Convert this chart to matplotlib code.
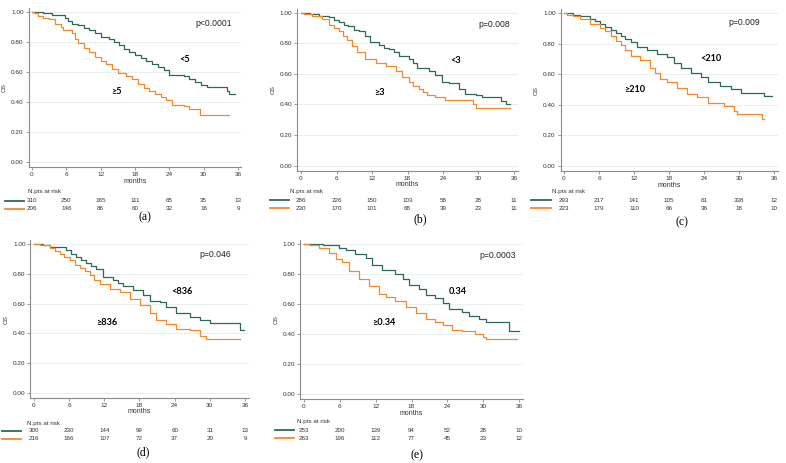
import matplotlib
matplotlib.use('Agg')
import matplotlib.pyplot as plt
from matplotlib.lines import Line2D
from matplotlib.transforms import blended_transform_factory

plt.rcParams['font.family'] = ['Liberation Sans', 'DejaVu Sans']

GREEN = '#2b6a57'
ORANGE = '#f4892c'
GRID = '#e4edf1'
SPINE = '#8a8a8a'

W, H = 786, 463

# ---- data ----
months = [0, 6, 12, 18, 24, 30, 36]

a_green_t = [2.0, 3.5, 5.8, 6.3, 7.0, 8.0, 9.0, 10.0, 11.0, 12.0, 13.5, 14.3, 15.2, 16.0, 17.0, 18.0, 19.0, 20.0, 21.0, 22.0, 23.0, 24.0, 26.5, 27.5, 28.5, 29.5, 30.5, 34.0, 34.5, 35.5]
a_green_s = [0.99, 0.98, 0.96, 0.94, 0.92, 0.91, 0.89, 0.88, 0.86, 0.83, 0.82, 0.80, 0.78, 0.75, 0.73, 0.71, 0.69, 0.67, 0.65, 0.63, 0.61, 0.58, 0.57, 0.55, 0.53, 0.51, 0.50, 0.47, 0.45, 0.45]
a_orange_t = [0.3, 1.0, 2.0, 3.0, 4.0, 5.0, 5.5, 7.0, 7.5, 8.0, 9.0, 10.0, 11.0, 12.0, 13.0, 14.0, 15.0, 16.5, 17.5, 18.5, 19.5, 20.5, 21.5, 22.5, 23.5, 24.5, 26.5, 27.5, 29.3, 34.5]
a_orange_s = [0.99, 0.97, 0.96, 0.95, 0.92, 0.90, 0.88, 0.86, 0.82, 0.79, 0.76, 0.73, 0.70, 0.67, 0.65, 0.62, 0.59, 0.57, 0.55, 0.52, 0.49, 0.47, 0.45, 0.43, 0.41, 0.38, 0.37, 0.35, 0.31, 0.31]

b_green_t = [1.5, 3.0, 4.7, 5.5, 6.4, 7.2, 8.0, 9.0, 9.8, 10.9, 11.7, 13.1, 14.0, 14.8, 15.7, 16.5, 18.2, 19.0, 19.6, 21.6, 22.7, 23.9, 25.0, 26.7, 27.8, 29.5, 30.6, 33.8, 34.6, 35.4]
b_green_s = [0.99, 0.98, 0.97, 0.95, 0.94, 0.92, 0.91, 0.89, 0.88, 0.85, 0.81, 0.79, 0.77, 0.76, 0.74, 0.72, 0.70, 0.67, 0.64, 0.62, 0.59, 0.55, 0.54, 0.50, 0.47, 0.46, 0.45, 0.42, 0.40, 0.40]
b_orange_t = [0.5, 1.9, 3.6, 4.7, 5.5, 6.4, 7.1, 7.8, 8.6, 9.5, 10.9, 12.6, 14.3, 16.0, 17.1, 18.2, 19.0, 19.9, 20.6, 21.3, 22.7, 24.4, 27.3, 29.0, 29.5, 35.4]
b_orange_s = [0.99, 0.98, 0.96, 0.92, 0.90, 0.88, 0.85, 0.82, 0.78, 0.74, 0.70, 0.67, 0.65, 0.62, 0.58, 0.55, 0.52, 0.50, 0.48, 0.46, 0.45, 0.43, 0.43, 0.40, 0.38, 0.38]

c_green_t = [1.5, 2.8, 4.5, 5.3, 6.2, 7.1, 8.0, 8.9, 9.7, 10.5, 11.4, 12.5, 14.3, 16.0, 17.7, 18.8, 20.0, 21.7, 23.4, 24.6, 26.8, 28.6, 30.3, 34.3, 35.7]
c_green_s = [0.99, 0.98, 0.96, 0.95, 0.93, 0.91, 0.89, 0.87, 0.85, 0.83, 0.81, 0.78, 0.76, 0.73, 0.71, 0.67, 0.64, 0.61, 0.58, 0.55, 0.52, 0.50, 0.48, 0.46, 0.46]
c_orange_t = [0.5, 1.5, 2.8, 4.5, 6.2, 7.1, 8.0, 8.9, 9.7, 10.5, 11.4, 13.1, 14.8, 15.6, 16.5, 17.7, 19.4, 21.1, 22.8, 24.6, 27.4, 29.1, 29.7, 34.0, 34.2]
c_orange_s = [0.99, 0.98, 0.96, 0.93, 0.90, 0.88, 0.85, 0.82, 0.79, 0.76, 0.72, 0.69, 0.64, 0.61, 0.57, 0.55, 0.51, 0.47, 0.45, 0.41, 0.39, 0.36, 0.34, 0.31, 0.31]

d_green_t = [1.5, 2.7, 5.5, 6.3, 7.2, 8.0, 8.9, 9.7, 10.6, 11.8, 13.5, 14.3, 15.2, 16.9, 18.6, 19.8, 21.5, 22.6, 24.3, 26.6, 28.3, 30.0, 35.1, 35.8]
d_green_s = [0.99, 0.98, 0.96, 0.93, 0.91, 0.89, 0.87, 0.85, 0.83, 0.78, 0.76, 0.74, 0.72, 0.69, 0.66, 0.62, 0.61, 0.58, 0.54, 0.51, 0.49, 0.47, 0.42, 0.42]
d_orange_t = [1.0, 2.7, 3.5, 4.4, 5.2, 6.1, 7.0, 7.8, 8.7, 9.5, 10.3, 11.2, 12.9, 14.6, 16.3, 18.1, 19.8, 20.9, 22.6, 24.3, 26.6, 28.3, 29.4, 35.1]
d_orange_s = [0.99, 0.97, 0.95, 0.93, 0.91, 0.89, 0.86, 0.84, 0.82, 0.79, 0.76, 0.73, 0.70, 0.68, 0.63, 0.59, 0.54, 0.49, 0.46, 0.43, 0.42, 0.38, 0.36, 0.36]

e_green_t = [3.1, 4.2, 5.9, 7.0, 8.6, 10.3, 11.4, 13.1, 15.3, 16.5, 17.6, 19.3, 20.4, 22.0, 23.2, 24.3, 26.5, 27.6, 29.3, 30.4, 34.3, 36.0]
e_green_s = [0.995, 0.99, 0.97, 0.96, 0.93, 0.91, 0.86, 0.83, 0.80, 0.77, 0.73, 0.70, 0.66, 0.64, 0.61, 0.57, 0.55, 0.52, 0.50, 0.48, 0.42, 0.42]
e_orange_t = [0.8, 2.5, 4.2, 5.3, 6.4, 7.5, 9.2, 10.9, 12.6, 13.7, 15.3, 17.0, 18.7, 20.4, 22.0, 23.2, 24.8, 26.5, 28.7, 29.9, 30.5, 35.7]
e_orange_s = [0.99, 0.97, 0.94, 0.90, 0.88, 0.82, 0.77, 0.72, 0.67, 0.65, 0.62, 0.58, 0.54, 0.50, 0.48, 0.46, 0.43, 0.42, 0.40, 0.38, 0.37, 0.37]

a_risk = [[310, 250, 165, 111, 65, 35, 13], [206, 146, 86, 60, 32, 16, 9]]
b_risk = [[286, 226, 150, 103, 58, 28, 11], [230, 170, 101, 68, 39, 23, 11]]
c_risk = [[293, 217, 141, 105, 61, 338, 12], [223, 179, 110, 66, 36, 18, 10]]
d_risk = [[300, 230, 144, 99, 60, 31, 13], [216, 166, 107, 72, 37, 20, 9]]
e_risk = [[253, 200, 139, 94, 52, 28, 10], [263, 196, 112, 77, 45, 23, 12]]

p_values = ['p<0.0001', 'p=0.008', 'p=0.009', 'p=0.046', 'p=0.0003']
low_labels = ['<5', '<3', '<210', '<836', '0.34']
high_labels = ['\u22655', '\u22653', '\u2265210', '\u2265836', '\u22650.34']
panel_tags = ['(a)', '(b)', '(c)', '(d)', '(e)']

# ---- layout (pixels in the 786x463 picture) ----
# x of month 0, x of month 36, y of 1.00, y of 0.00
frames = [(32, 238, 12, 162), (301, 514, 12.7, 165.7), (564, 774, 13, 166),
          (34, 245, 244, 393), (304, 519, 244, 394)]
# p-value pos, low label pos, high label pos (data coords)
text_pos = [((31.8, 0.925), (26.7, 0.68), (14.7, 0.47)),
            ((32.6, 0.92), (26.1, 0.69), (13.3, 0.48)),
            ((30.9, 0.935), (25.1, 0.705), (12.1, 0.50)),
            ((30.9, 0.93), (25.2, 0.68), (12.4, 0.47)),
            ((32.4, 0.92), (25.8, 0.685), (13.4, 0.478))]
# N.pts x, N.pts y, row1 y, row2 y, legend x0, x1, tag x, tag y
table_pos = [(28, 192, 201, 209, 5, 24, 145, 217),
             (290, 192, 200, 208, 270, 289, 420, 219),
             (552, 192, 200, 208, 531, 551, 682, 222),
             (27, 423, 431, 439, 2, 21, 143, 452),
             (297, 422, 430, 438, 275, 294, 417, 455)]

curves = [(a_green_t, a_green_s, a_orange_t, a_orange_s),
          (b_green_t, b_green_s, b_orange_t, b_orange_s),
          (c_green_t, c_green_s, c_orange_t, c_orange_s),
          (d_green_t, d_green_s, d_orange_t, d_orange_s),
          (e_green_t, e_green_s, e_orange_t, e_orange_s)]
risks = [a_risk, b_risk, c_risk, d_risk, e_risk]

fig = plt.figure(figsize=(W / 100, H / 100), dpi=100)

XL, XR = -0.6, 36.6
YB, YT = -0.035, 1.025


def fy(py):
    return 1 - py / H


for i in range(5):
    x0, x36, y1, y0 = frames[i]
    sx = (x36 - x0) / 36
    sy = y0 - y1
    left = x0 + XL * sx
    right = x0 + XR * sx
    top = y0 - YT * sy
    bottom = y0 - YB * sy
    ax = fig.add_axes([left / W, fy(bottom), (right - left) / W, (bottom - top) / H])

    gt, gs, ot, os_ = curves[i]
    ax.step([0] + gt, [1.0] + gs, where='post', color=GREEN, lw=0.9, zorder=3)
    ax.step([0] + ot, [1.0] + os_, where='post', color=ORANGE, lw=0.9, zorder=3)

    ax.set_xlim(XL, XR)
    ax.set_ylim(YB, YT)
    ax.set_xticks(months)
    ax.set_yticks([0, 0.2, 0.4, 0.6, 0.8, 1.0])
    ax.set_yticklabels(['%.2f' % v for v in [0, 0.2, 0.4, 0.6, 0.8, 1.0]])
    ax.grid(axis='y', color=GRID, lw=0.6, zorder=0)
    ax.set_axisbelow(True)
    for s in ['top', 'right']:
        ax.spines[s].set_visible(False)
    for s in ['left', 'bottom']:
        ax.spines[s].set_color(SPINE)
        ax.spines[s].set_linewidth(0.8)
    ax.tick_params(length=2, width=0.6, color=SPINE, labelsize=4.6,
                   labelcolor='#333333', pad=1.5)
    ax.set_xlabel('months', fontsize=5, labelpad=0.3, color='#333333')
    ax.set_ylabel('OS', fontsize=4.5, labelpad=3, color='#333333')

    (px, py), (lx, ly), (hx, hy) = text_pos[i]
    ax.text(px, py, p_values[i], fontsize=6.2, ha='center', va='center', color='#222222')
    ax.text(lx, ly, low_labels[i], fontsize=6.6, fontweight='bold', ha='center',
            va='center', family=['Lato', 'DejaVu Sans'])
    ax.text(hx, hy, high_labels[i], fontsize=6.6, fontweight='bold', ha='center',
            va='center', family=['Lato', 'DejaVu Sans'])

    nx, ny, r1, r2, lx0, lx1, tx, ty = table_pos[i]
    fig.text(nx / W, fy(ny), 'N.pts at risk', fontsize=4.5, va='center', ha='left', color='#333333')
    tr = blended_transform_factory(ax.transData, fig.transFigure)
    for row, ry, col in [(risks[i][0], r1, GREEN), (risks[i][1], r2, ORANGE)]:
        for m, n in zip(months, row):
            fig.text(m, fy(ry), str(n), fontsize=4.5, ha='center', va='center',
                     transform=tr, color='#333333')
        fig.add_artist(Line2D([lx0 / W, lx1 / W], [fy(ry), fy(ry)], color=col, lw=1.3,
                              transform=fig.transFigure))
    fig.text(tx / W, fy(ty), panel_tags[i], fontsize=8.5, ha='center', va='center',
             family=['Liberation Serif'])

fig.savefig('out.png', dpi=100)
